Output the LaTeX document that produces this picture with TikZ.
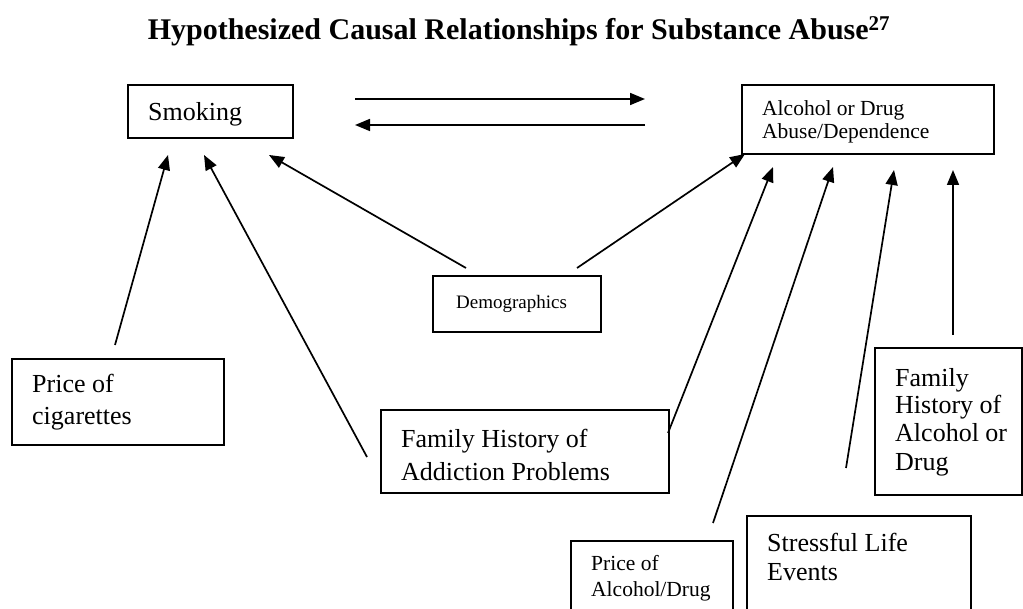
\documentclass[tikz,border=0pt]{standalone}
\usepackage{fontspec}
\setmainfont{Liberation Serif}
\usetikzlibrary{arrows.meta}
\begin{document}
\begin{tikzpicture}[x=1pt,y=-1pt,
  box/.style={draw, line width=1.9pt, inner sep=0pt, anchor=north west},
  lbl/.style={anchor=base west, inner sep=0pt},
  big/.style={font=\fontsize{26}{30}\selectfont},
  mid/.style={font=\fontsize{21.5}{24}\selectfont},
  sml/.style={font=\fontsize{19}{22}\selectfont},
  conn/.style={line width=1.7pt, -{Triangle[length=15pt,width=12pt]}},
]
\useasboundingbox (0,0) rectangle (1023,609);
\clip (0,0) rectangle (1023,609);

\node[anchor=base, inner sep=0pt, font=\fontsize{30}{34}\selectfont\bfseries] (title) at (519,40)
  {Hypothesized Causal Relationships for Substance Abuse\textsuperscript{27}};

% boxes
\node[box, minimum width=165pt, minimum height=53pt] (smoking) at (127,84) {};
\node[lbl, big] (smokingT) at (148,121) {Smoking};

\node[box, minimum width=252pt, minimum height=69pt] (alcohol) at (741,84) {};
\node[lbl, mid] (alcT1) at (762,116) {Alcohol or Drug};
\node[lbl, mid] (alcT2) at (762,139) {Abuse/Dependence};

\node[box, minimum width=168pt, minimum height=56pt] (demo) at (432,275) {};
\node[lbl, sml] (demoT) at (456,309) {Demographics};

\node[box, minimum width=212pt, minimum height=86pt] (cig) at (11,358) {};
\node[lbl, big] (cigT1) at (32,393) {Price of};
\node[lbl, big] (cigT2) at (32,425) {cigarettes};

\node[box, minimum width=288pt, minimum height=83pt] (addict) at (380,409) {};
\node[lbl, big] (addT1) at (401,448) {Family History of};
\node[lbl, big] (addT2) at (401,480) {Addiction Problems};

\node[box, minimum width=162pt, minimum height=90pt] (palc) at (570,540) {};
\node[lbl, mid] (palcT1) at (591,570) {Price of};
\node[lbl, mid] (palcT2) at (591,596) {Alcohol/Drug};

\node[box, minimum width=224pt, minimum height=110pt] (stress) at (746,515) {};
\node[lbl, big] (stressT1) at (767,551) {Stressful Life};
\node[lbl, big] (stressT2) at (767,580) {Events};

\node[box, minimum width=147pt, minimum height=147pt] (famalc) at (874,347) {};
\node[lbl, big] (famT1) at (895,387) {Family};
\node[lbl, big] (famT2) at (895,414) {History of};
\node[lbl, big] (famT3) at (895,442) {Alcohol or};
\node[lbl, big] (famT4) at (895,470) {Drug};

% connector ends
\coordinate (s2aS) at (355,99);  \coordinate (s2aE) at (645,99);
\coordinate (a2sS) at (645,125); \coordinate (a2sE) at (355,125);
\coordinate (c1S) at (115,345); \coordinate (c1E) at (168,155);
\coordinate (c2S) at (367,457); \coordinate (c2E) at (204,155);
\coordinate (c3S) at (466,268); \coordinate (c3E) at (269,155);
\coordinate (c4S) at (577,268); \coordinate (c4E) at (745,154);
\coordinate (c5S) at (668,433); \coordinate (c5E) at (773,167);
\coordinate (c6S) at (713,523); \coordinate (c6E) at (833,167);
\coordinate (c7S) at (846,468); \coordinate (c7E) at (894,170);
\coordinate (c8S) at (953,335); \coordinate (c8E) at (953,170);

\draw[conn] (s2aS) -- (s2aE);
\draw[conn] (a2sS) -- (a2sE);
\draw[conn] (c1S) -- (c1E);
\draw[conn] (c2S) -- (c2E);
\draw[conn] (c3S) -- (c3E);
\draw[conn] (c4S) -- (c4E);
\draw[conn] (c5S) -- (c5E);
\draw[conn] (c6S) -- (c6E);
\draw[conn] (c7S) -- (c7E);
\draw[conn] (c8S) -- (c8E);
\end{tikzpicture}
\end{document}
